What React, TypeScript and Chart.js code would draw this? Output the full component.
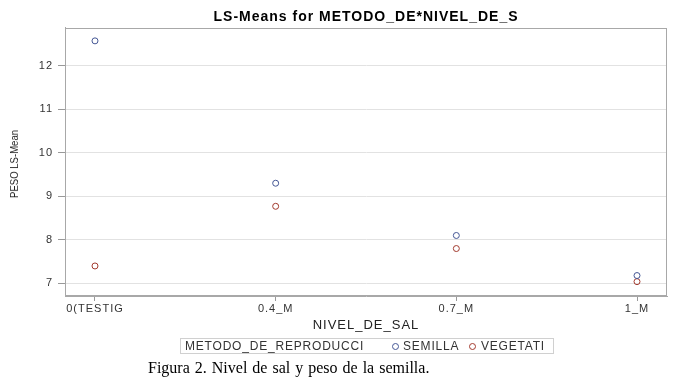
import React, { useEffect, useRef } from "react";
import { Chart, registerables } from "chart.js";

Chart.register(...registerables);

const categories = ["0(TESTIG", "0.4_M", "0.7_M", "1_M"];
const semilla = [12.57, 9.3, 8.1, 7.18];
const vegetati = [7.4, 8.77, 7.8, 7.04];
const yTicks = [7, 8, 9, 10, 11, 12];
const seriesNames = ["SEMILLA", "VEGETATI"];
const seriesColors = ["#445694", "#A23A2E"];
const legendTitle = "METODO_DE_REPRODUCCI";
const chartTitle = "LS-Means for METODO_DE*NIVEL_DE_S";
const xTitle = "NIVEL_DE_SAL";
const yTitle = "PESO LS-Mean";
const caption = "Figura 2. Nivel de sal y peso de la semilla.";

const FONT = "'Liberation Sans', Arial, sans-serif";

const spacingPlugin = {
  id: "spacing",
  beforeUpdate(chart: any) {
    chart.ctx.letterSpacing = "1px";
  },
  beforeDraw(chart: any) {
    chart.ctx.letterSpacing = "1px";
  },
};

const framePlugin = {
  id: "frame",
  beforeDatasetsDraw(chart: any) {
    const { ctx, chartArea } = chart;
    const { left, top, right, bottom } = chartArea;
    ctx.save();
    ctx.strokeStyle = "#a8a8a8";
    ctx.lineWidth = 1;
    ctx.strokeRect(Math.round(left) + 0.5, Math.round(top) + 0.5, Math.round(right - left) - 1, Math.round(bottom - top) - 1);
    ctx.restore();
  },
};

function toPoints(values: number[]) {
  return values.map((v, i) => ({ x: i, y: v }));
}

export default function App() {
  const ref = useRef<HTMLCanvasElement | null>(null);

  useEffect(() => {
    if (!ref.current) return;
    Chart.defaults.font.family = FONT;
    const chart = new Chart(ref.current, {
      type: "scatter",
      data: {
        datasets: [semilla, vegetati].map((vals, k) => ({
          label: seriesNames[k],
          data: toPoints(vals),
          borderColor: seriesColors[k],
          backgroundColor: "rgba(0,0,0,0)",
          pointRadius: 3,
          pointBorderWidth: 1,
          pointStyle: "circle",
          showLine: false,
        })),
      },
      options: {
        responsive: false,
        animation: false,
        layout: { padding: { left: 0, right: 11, top: 0, bottom: 46 } },
        plugins: {
          legend: { display: false },
          tooltip: { enabled: false },
          title: {
            display: true,
            fullSize: false,
            text: chartTitle,
            color: "#000",
            font: { family: FONT, size: 14, weight: "bold" },
            padding: { top: 9, bottom: 2 },
          },
        },
        scales: {
          x: {
            type: "linear",
            min: -0.166,
            max: 3.166,
            afterBuildTicks: (axis: any) => {
              axis.ticks = categories.map((_, i) => ({ value: i }));
            },
            afterFit: (scale: any) => {
              scale.height = 37;
            },
            ticks: {
              callback: (v: any) => categories[v as number] ?? "",
              color: "#333",
              font: { family: FONT, size: 11 },
              padding: 1,
              maxRotation: 0,
              autoSkip: false,
            },
            grid: {
              drawOnChartArea: false,
              drawTicks: true,
              tickLength: 5,
              tickColor: "#999",
            },
            border: { display: true, color: "#a8a8a8" },
            title: {
              display: true,
              text: xTitle,
              color: "#222",
              font: { family: FONT, size: 13 },
              padding: { top: 0, bottom: 0 },
            },
          },
          y: {
            type: "linear",
            min: 6.71,
            max: 12.87,
            afterBuildTicks: (axis: any) => {
              axis.ticks = yTicks.map((v) => ({ value: v }));
            },
            afterFit: (scale: any) => {
              scale.width = 65;
            },
            ticks: {
              color: "#333",
              font: { family: FONT, size: 11 },
              padding: 5,
            },
            grid: {
              color: "#e2e2e2",
              tickColor: "#999",
              tickLength: 7,
            },
            border: { display: true, color: "#a8a8a8" },
            title: { display: false },
          },
        },
      },
      plugins: [spacingPlugin, framePlugin],
    } as any);
    return () => chart.destroy();
  }, []);

  const legendText: React.CSSProperties = {
    position: "absolute",
    top: 0,
    lineHeight: "14px",
    fontSize: "12px",
    letterSpacing: "0.8px",
    color: "#333",
    whiteSpace: "nowrap",
  };
  const marker = (color: string, left: number): React.CSSProperties => ({
    position: "absolute",
    left,
    top: 4,
    width: 5,
    height: 5,
    borderRadius: "50%",
    border: `1px solid ${color}`,
  });

  return (
    <div style={{ position: "fixed", left: 0, top: 0, width: 678, height: 379, background: "#fff", fontFamily: FONT }}>
      <canvas ref={ref} width={678} height={379} style={{ position: "absolute", left: 0, top: 0 }} />
      <div
        style={{
          position: "absolute",
          left: 14,
          top: 164,
          transform: "translate(-50%, -50%) rotate(-90deg) scaleX(0.87)",
          fontSize: "11px",
          lineHeight: "12px",
          color: "#222",
          whiteSpace: "nowrap",
        }}
      >
        {yTitle}
      </div>
      <div
        style={{
          position: "absolute",
          left: 180,
          top: 338,
          width: 372,
          height: 14,
          border: "1px solid #d0d0d0",
        }}
      >
        <span style={{ ...legendText, left: 4 }}>{legendTitle}</span>
        <span style={marker(seriesColors[0], 211)} />
        <span style={{ ...legendText, left: 222 }}>{seriesNames[0]}</span>
        <span style={marker(seriesColors[1], 288)} />
        <span style={{ ...legendText, left: 300 }}>{seriesNames[1]}</span>
      </div>
      <div
        style={{
          position: "absolute",
          left: 148,
          top: 358,
          fontFamily: "'Liberation Serif', 'Times New Roman', serif",
          fontSize: "16px",
          lineHeight: "20px",
          wordSpacing: "1px",
          color: "#000",
          whiteSpace: "nowrap",
        }}
      >
        {caption}
      </div>
    </div>
  );
}
